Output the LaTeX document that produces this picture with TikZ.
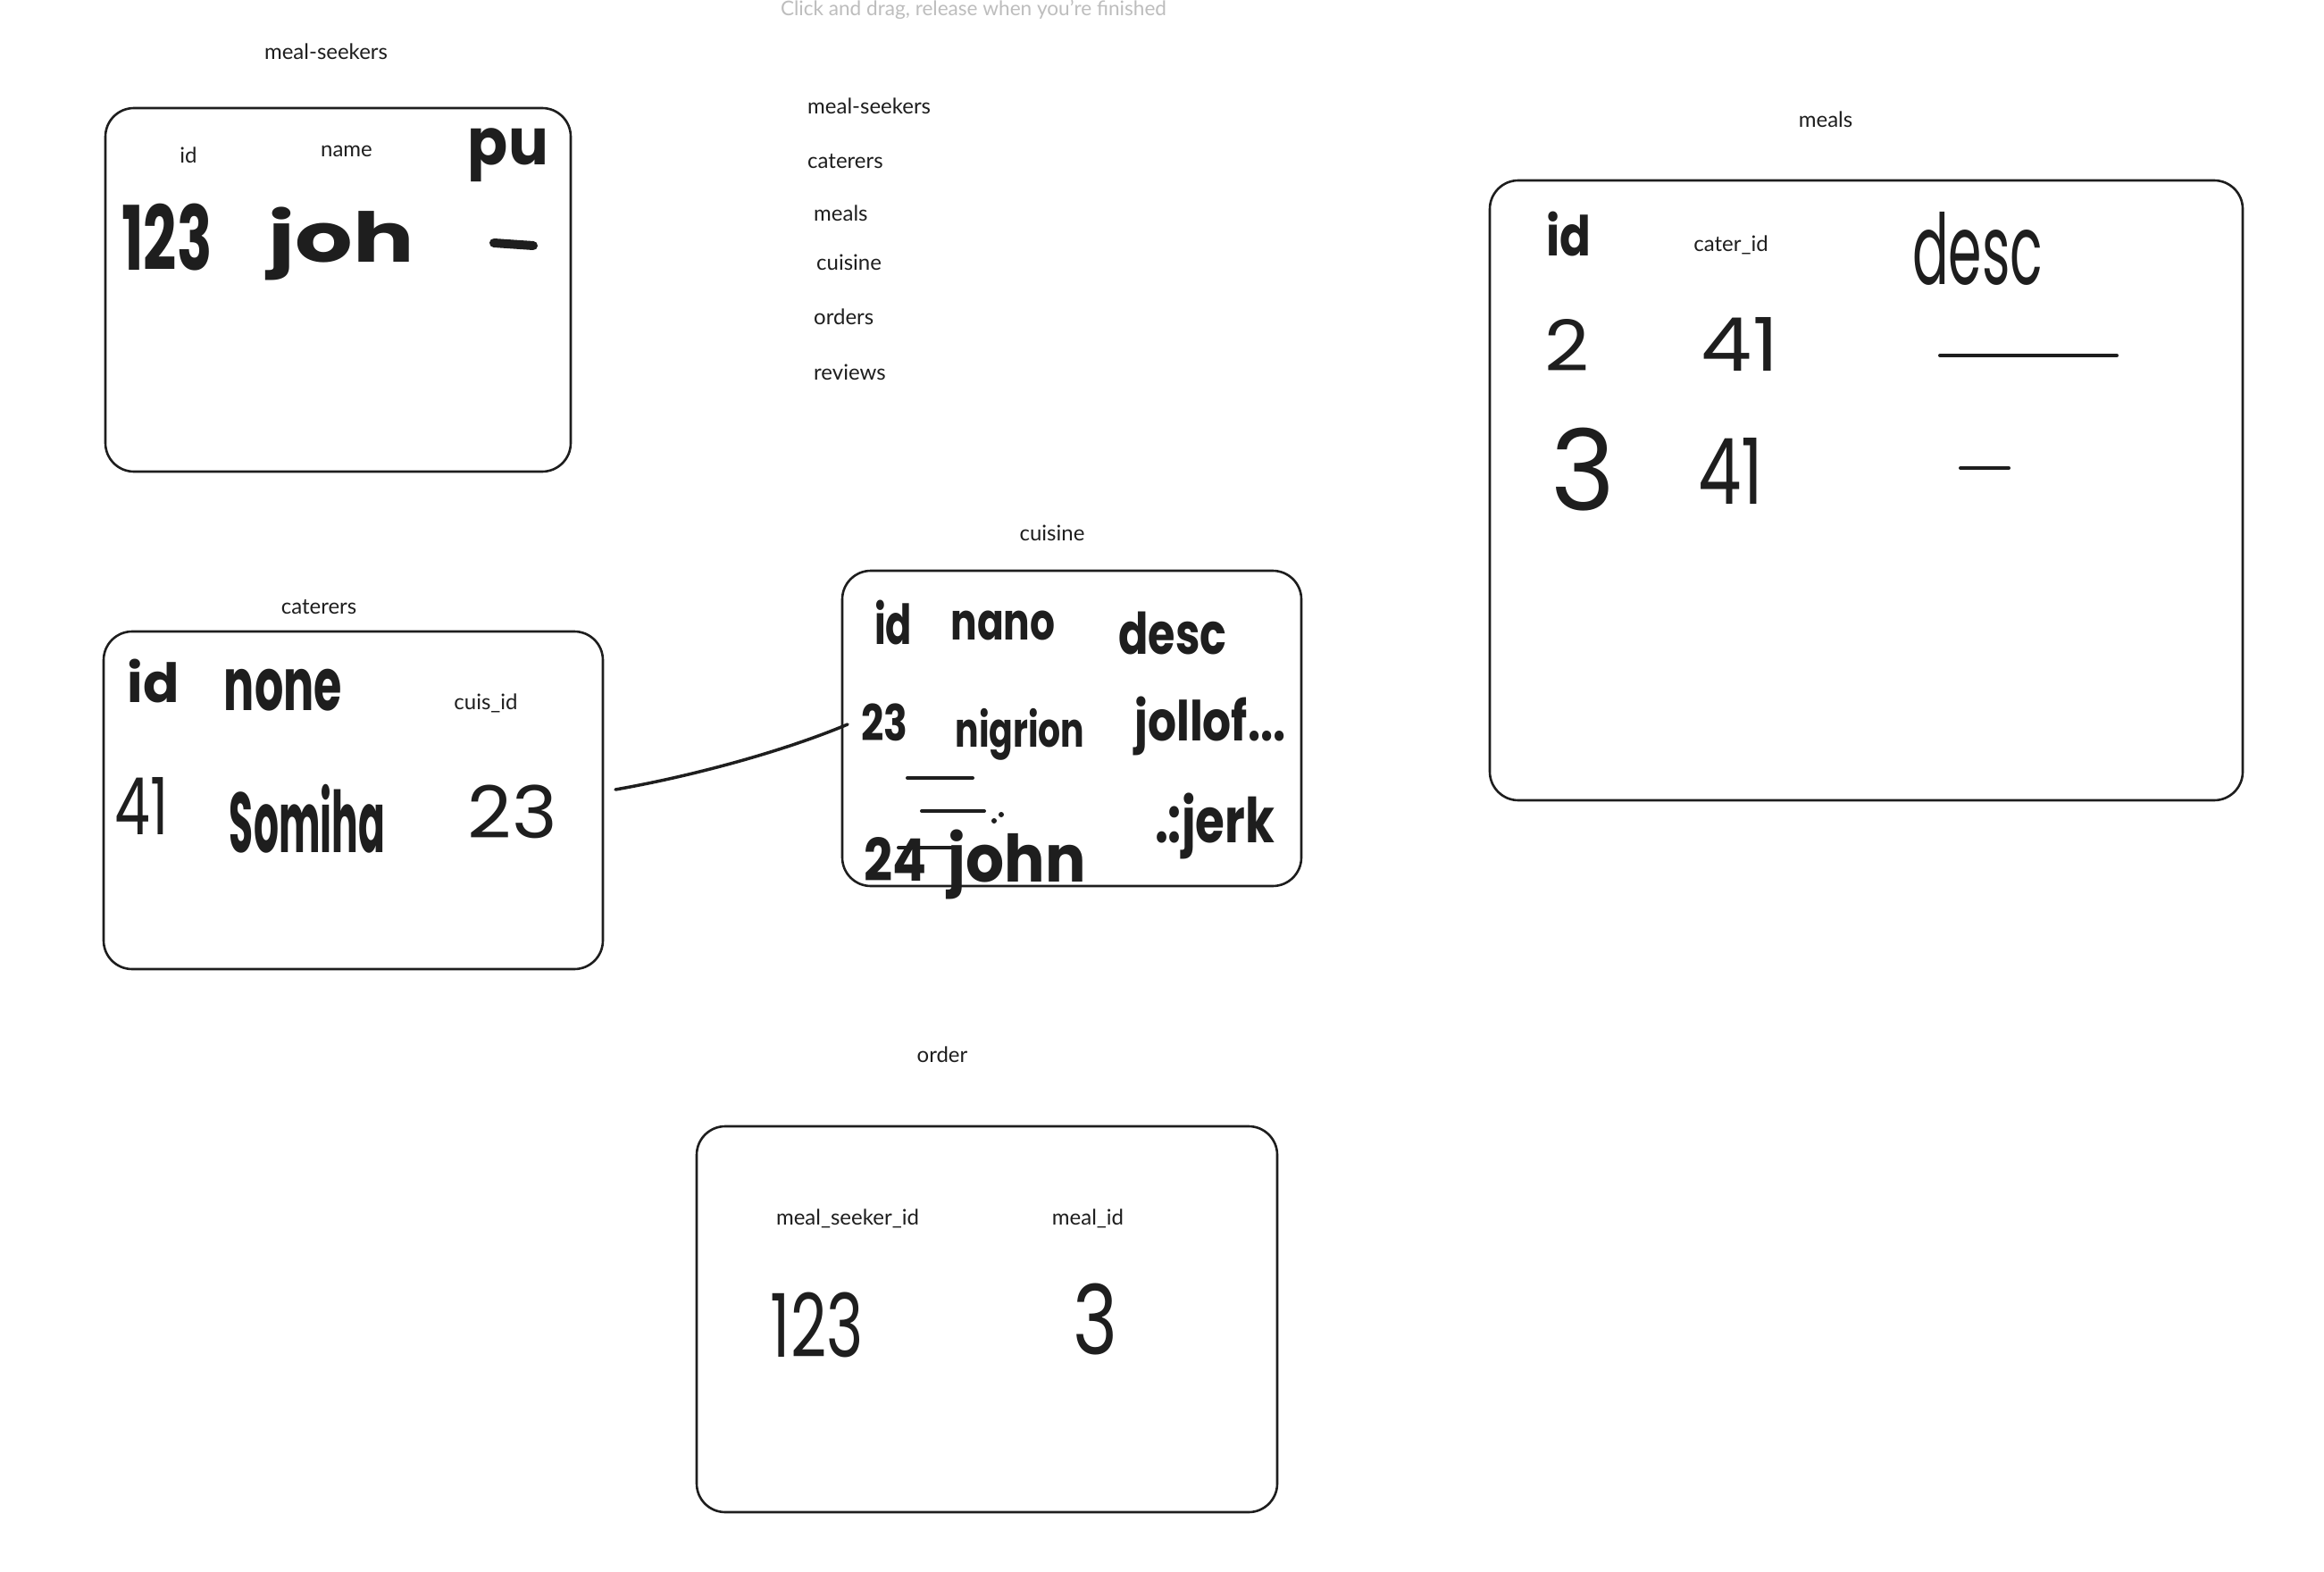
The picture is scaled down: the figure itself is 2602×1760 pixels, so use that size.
\documentclass[tikz,border=0pt]{standalone}
\usepackage{fontspec}
\usepackage{graphicx}
\setmainfont{Lato}
\newfontfamily\hand{Poppins}
\definecolor{ink}{HTML}{1E1E1E}
\definecolor{hint}{HTML}{BDBDBD}
\newcommand{\hwr}[3]{\resizebox*{#1pt}{#2pt}{\hand #3}}
\tikzset{
  lab/.style={font=\fontsize{24}{28}\selectfont, text=ink, inner sep=0pt},
  hw/.style={text=ink, inner sep=0pt},
  tablebox/.style={draw=ink, line width=2.6pt, rounded corners=32pt, inner sep=0pt},
  stroke/.style={draw=ink, line cap=round, line join=round},
}
\begin{document}
\begin{tikzpicture}[x=1pt,y=-1pt]
\useasboundingbox[fill=white] (0,0) rectangle (2602,1760);

% hint text at the top
\node[anchor=base, text=hint, inner sep=0pt] (hinttext) at (1090,18)
  {\resizebox{432pt}{!}{\fontsize{26}{30}\selectfont Click and drag, release when you're finished}};

% ---------- meal-seekers ----------
\node[lab] (msTitle) at (365,58) {meal-seekers};
\draw[tablebox] (118,121) rectangle (639,528);
\node[lab] (msId) at (211,174) {id};
\node[lab] (msName) at (388,169) {name};
\node[hw] (msPu) at (569,174) {\hwr{90}{60}{\bfseries pu}};
\node[hw] (ms123) at (187,266) {\hwr{101}{75}{\bfseries 123}};
\node[hw] (msJoh) at (382,273) {\hwr{163}{82}{\bfseries joh}};
\draw[stroke, line width=10pt] (553,272) -- (597,275);

% ---------- list ----------
\node[lab, anchor=west] (l1) at (904,119) {meal-seekers};
\node[lab, anchor=west] (l2) at (904,181) {caterers};
\node[lab, anchor=west] (l3) at (911,239) {meals};
\node[lab, anchor=west] (l4) at (914,294) {cuisine};
\node[lab, anchor=west] (l5) at (911,355) {orders};
\node[lab, anchor=west] (l6) at (911,417) {reviews};

% ---------- meals ----------
\node[lab] (mlTitle) at (2044,134) {meals};
\draw[tablebox] (1668,202) rectangle (2511,896);
\node[hw] (mlId) at (1756,262) {\hwr{50}{50}{\bfseries id}};
\node[lab] (mlCater) at (1938,274) {cater\_id};
\node[hw] (mlDesc) at (2214,278) {\hwr{146}{82}{desc}};
\node[hw] (ml2) at (1754,386) {\hwr{50}{58}{2}};
\node[hw] (ml41a) at (1948,385) {\hwr{86}{60}{41}};
\draw[stroke, line width=4pt] (2172,398) -- (2370,398);
\node[hw] (ml3) at (1773,526) {\hwr{72}{93}{3}};
\node[hw] (ml41b) at (1938,527) {\hwr{73}{74}{41}};
\draw[stroke, line width=4pt] (2195,524) -- (2249,524);

% ---------- cuisine ----------
\node[lab] (cuTitle) at (1178,597) {cuisine};
\node[tablebox, minimum width=514pt, minimum height=353pt] (cuBox) at (1200,815.5) {};
\node[hw] (cuId) at (1000,697) {\hwr{42}{50}{\bfseries id}};
\node[hw] (cuName) at (1123,700) {\hwr{117}{33}{\bfseries nano}};
\node[hw] (cuDesc) at (1313,709) {\hwr{121}{48}{\bfseries desc}};
\node[hw] (cu23) at (990,809) {\hwr{52}{42}{\bfseries 23}};
\node[hw] (cuNig) at (1142,822) {\hwr{145}{58}{\bfseries nigrion}};
\node[hw] (cuJol) at (1355,813) {\hwr{169}{66}{\bfseries jollof...}};
\draw[stroke, line width=4pt] (1016,871) -- (1089,871);
\draw[stroke, line width=4pt] (1032,908) -- (1102,908);
\fill[ink] (1113,919) circle (3pt) (1121,912) circle (3pt);
\node[hw] (cu24) at (1002,962) {\hwr{70}{49}{\bfseries 24}};
\draw[stroke, line width=4pt] (1006,949) -- (1072,949);
\node[hw] (cuJohn) at (1139,968) {\hwr{154}{78}{\bfseries john}};
\node[hw] (cuJerk) at (1360,925) {\hwr{134}{74}{\bfseries .:jerk}};

% ---------- caterers ----------
\node[lab] (caTitle) at (357,680) {caterers};
\node[tablebox, minimum width=559pt, minimum height=378pt] (caBox) at (395.5,896) {};
\node[hw] (caId) at (172,762) {\hwr{58}{49}{\bfseries id}};
\node[hw] (caName) at (317,773) {\hwr{132}{47}{\bfseries none}};
\node[lab] (caCuis) at (544,787) {cuis\_id};
\node[hw] (ca41) at (159,902) {\hwr{60}{64}{41}};
\node[hw] (caSom) at (344,917) {\hwr{174}{77}{\bfseries Somiha}};
\node[hw] (ca23) at (574,909) {\hwr{100}{60}{23}};

% connector caterers -> cuisine
\coordinate (cFrom) at (689,884);
\coordinate (cTo) at (949,811);
\draw[stroke, line width=3.5pt] (cFrom) .. controls (780,868) and (880,840) .. (cTo);

% ---------- order ----------
\node[lab] (orTitle) at (1055,1181) {order};
\draw[tablebox] (780,1261) rectangle (1430,1693);
\node[lab] (orMs) at (949,1364) {meal\_seeker\_id};
\node[lab] (orMeal) at (1218,1364) {meal\_id};
\node[hw] (or123) at (915,1483) {\hwr{104}{73}{123}};
\node[hw] (or3) at (1226,1477) {\hwr{50}{80}{3}};
\end{tikzpicture}
\end{document}
